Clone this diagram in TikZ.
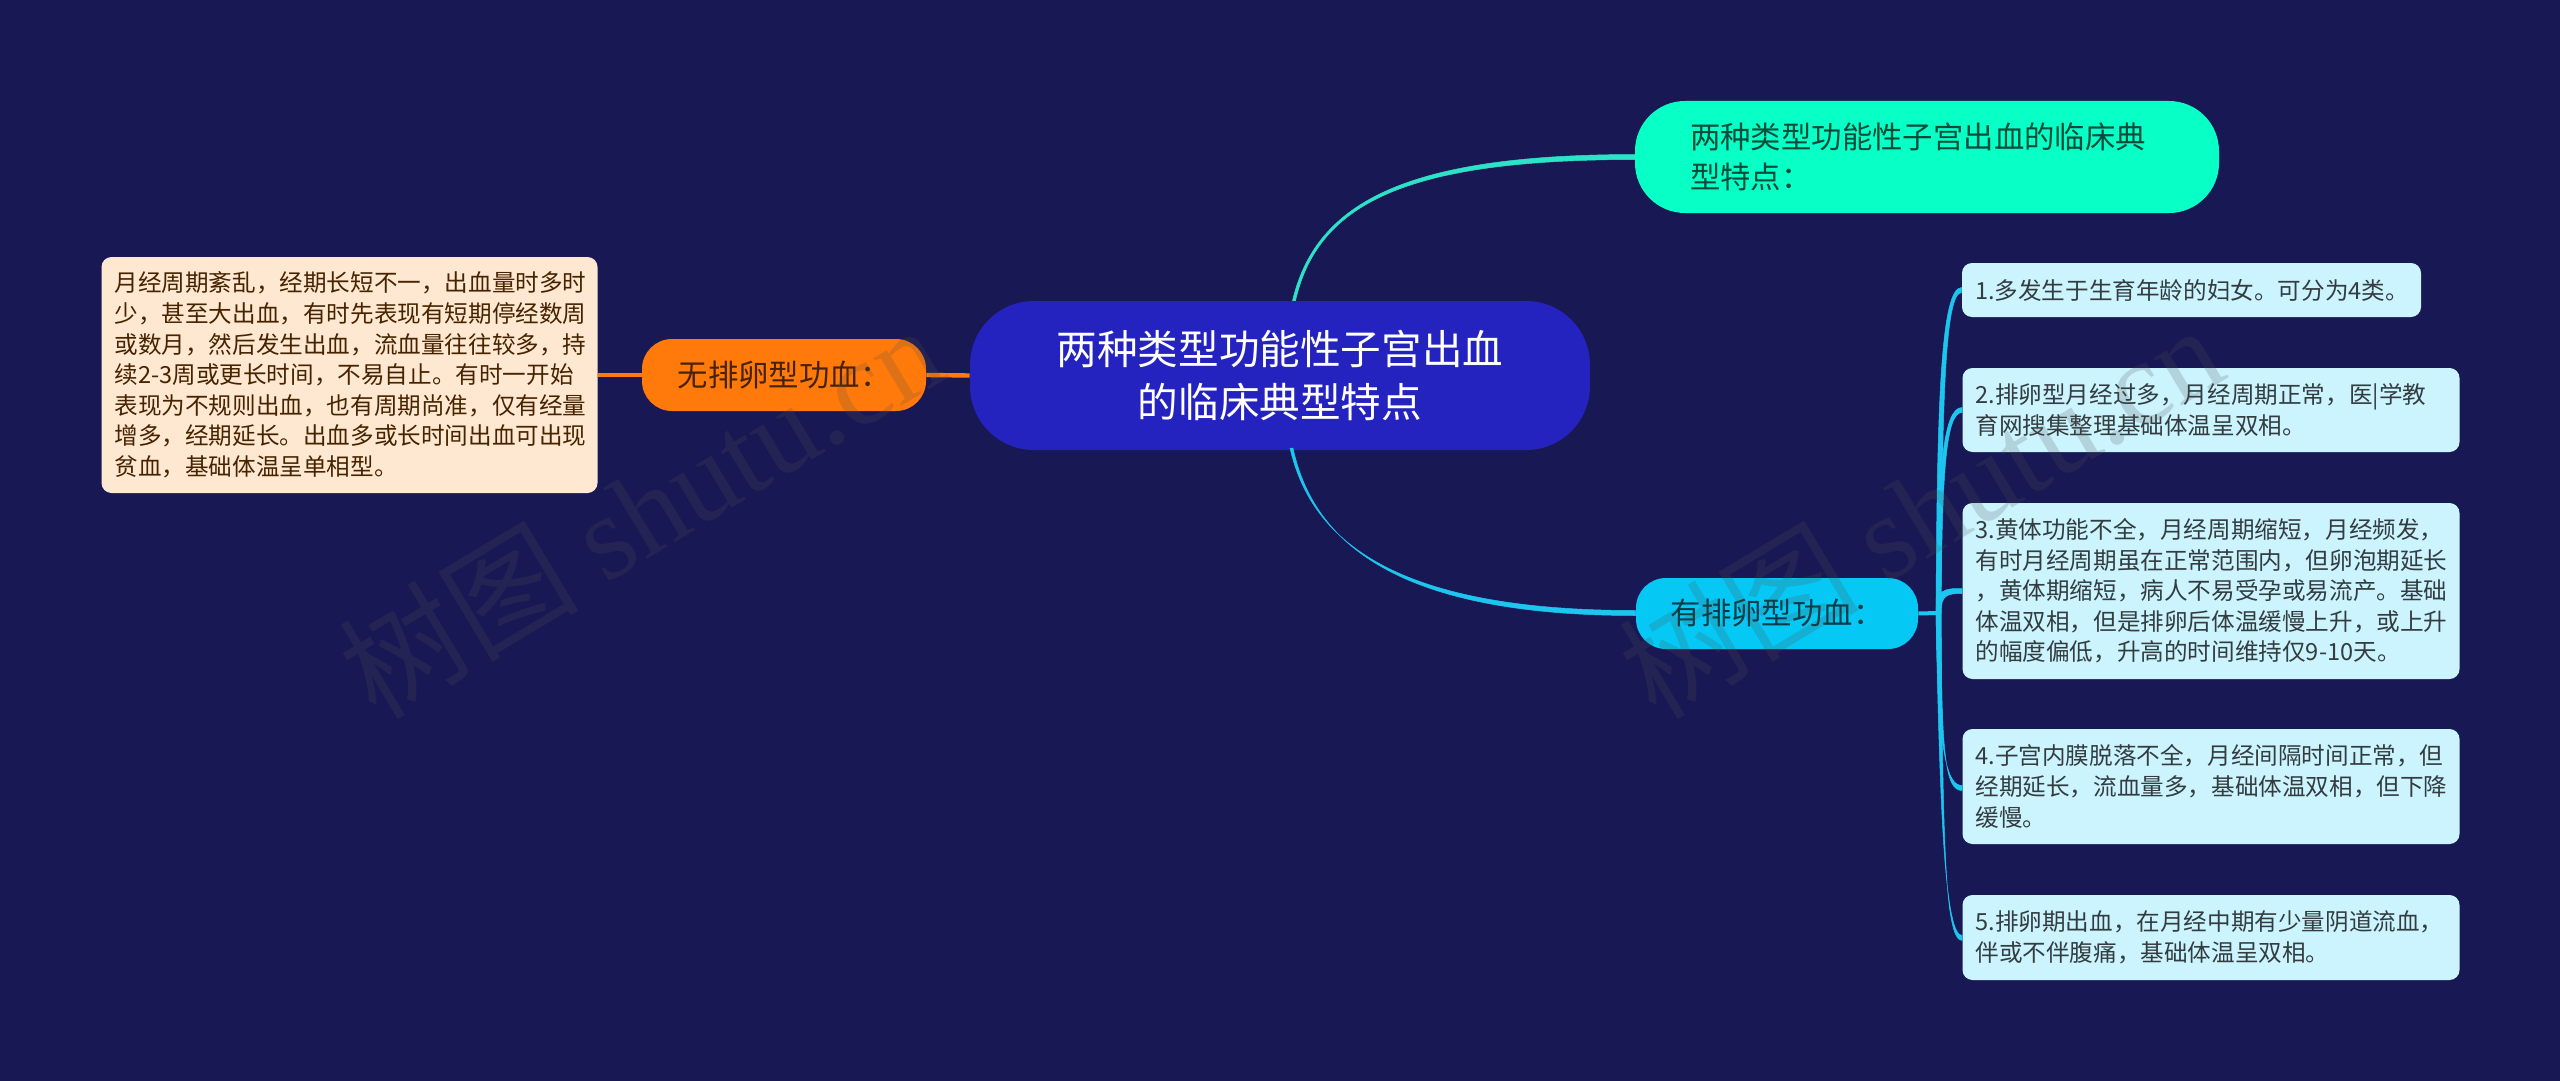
\documentclass[tikz,border=0pt]{standalone}
\usepackage{fontspec}
\setmainfont{Noto Sans CJK SC}
\newfontfamily\wmfont{Liberation Serif}
\newfontfamily\wmcjk{Noto Sans CJK SC}
\definecolor{bgc}{HTML}{181954}
\definecolor{centerc}{HTML}{2523C0}
\definecolor{tealc}{HTML}{08FFC6}
\definecolor{teallinec}{HTML}{2DE2C6}
\definecolor{cyanc}{HTML}{05C8F5}
\definecolor{cyanlinec}{HTML}{1CC6EE}
\definecolor{orangec}{HTML}{FF7A0A}
\definecolor{leafc}{HTML}{CCF4FF}
\definecolor{peachc}{HTML}{FFE8D2}
\definecolor{wmc}{HTML}{505050}
\tikzset{
  x=0.5pt,y=-0.5pt,
  pill/.style={inner sep=0pt,align=center,anchor=center},
  centerpill/.style={pill,fill=centerc,text=white,rounded corners=32pt,minimum width=310pt,minimum height=74.5pt,font=\fontsize{20.3pt}{26.5pt}\selectfont},
  tealpill/.style={pill,fill=tealc,text=black!70!tealc,rounded corners=25pt,minimum width=292pt,minimum height=56pt,text width=237pt,align=left,font=\fontsize{15.2pt}{20pt}\selectfont},
  orangepill/.style={pill,fill=orangec,text=black!72!orangec,rounded corners=15pt,minimum width=142pt,minimum height=36pt,font=\fontsize{15.2pt}{20pt}\selectfont},
  cyanpill/.style={pill,fill=cyanc,text=black!70!cyanc,rounded corners=15pt,minimum width=141pt,minimum height=35.5pt,font=\fontsize{15.2pt}{20pt}\selectfont},
  leaf/.style={inner sep=0pt,fill=leafc,text=black!75!leafc,rounded corners=5pt,align=left,font=\fontsize{11.8pt}{15.3pt}\selectfont},
  peach/.style={leaf,fill=peachc,text=black!72!orange},
  conn/.style={line width=0.25pt,line join=round},
  wm/.style={rotate=31,opacity=0.2,text=wmc,font=\fontsize{60pt}{60pt}\selectfont},
}
\begin{document}
\begin{tikzpicture}
\useasboundingbox (0,0) rectangle (2560,1081);
\fill[bgc] (0,0) rectangle (2560,1081);

\coordinate (cc) at (1280,375.5);
\coordinate (ctop) at (1292,303);
\coordinate (cbot) at (1290,448);
\coordinate (sp) at (1938,613);

% connectors behind the nodes
\draw[conn,draw=teallinec,fill=teallinec] (ctop) .. controls (1315,200) and (1410,154.5) .. (1637,154.5) -- (1637,159.5) .. controls (1410,159.5) and (1317,201) .. ([xshift=1.5pt]ctop) -- cycle;

\node[centerpill] (c) at (cc) {两种类型功能性子宫出血\\的临床典型特点};
\node[tealpill] (t) at (1927,157) {两种类型功能性子宫出血的临床典\\型特点：};
\node[orangepill] (o) at (784,375) {无排卵型功血：};
\node[cyanpill] (y) at (1777,613.5) {有排卵型功血：};

\node[peach,minimum width=248pt,minimum height=118pt,text width=235pt] (l0) at (349.5,375) {月经周期紊乱，经期长短不一，出血量时多时\\少，甚至大出血，有时先表现有短期停经数周\\或数月，然后发生出血，流血量往往较多，持\\续2-3周或更长时间，不易自止。有时一开始\\表现为不规则出血，也有周期尚准，仅有经量\\增多，经期延长。出血多或长时间出血可出现\\贫血，基础体温呈单相型。};

\node[leaf,minimum width=229.5pt,minimum height=27pt,text width=216.5pt] (r1) at (2191.5,290) {1.多发生于生育年龄的妇女。可分为4类。};
\node[leaf,minimum width=248.5pt,minimum height=42pt,text width=235.5pt] (r2) at (2211,410) {2.排卵型月经过多，月经周期正常，医|学教\\育网搜集整理基础体温呈双相。};
\node[leaf,minimum width=248.5pt,minimum height=88pt,text width=235.5pt] (r3) at (2211,591) {3.黄体功能不全，月经周期缩短，月经频发，\\有时月经周期虽在正常范围内，但卵泡期延长\\，黄体期缩短，病人不易受孕或易流产。基础\\体温双相，但是排卵后体温缓慢上升，或上升\\的幅度偏低，升高的时间维持仅9-10天。};
\node[leaf,minimum width=248.5pt,minimum height=57.5pt,text width=235.5pt] (r4) at (2211,786.5) {4.子宫内膜脱落不全，月经间隔时间正常，但\\经期延长，流血量多，基础体温双相，但下降\\缓慢。};
\node[leaf,minimum width=248.5pt,minimum height=42.5pt,text width=235.5pt] (r5) at (2211,937.5) {5.排卵期出血，在月经中期有少量阴道流血，\\伴或不伴腹痛，基础体温呈双相。};

\draw[conn,draw=cyanlinec,fill=cyanlinec] (cbot) .. controls (1313,550) and (1410,610.5) .. (y.west |- 0,610.5) -- (y.west |- 0,615.5) .. controls (1410,615.5) and (1315,551) .. ([xshift=1.5pt]cbot) -- cycle;

\draw[orangec,line width=2.2pt] (l0.east) -- (o.west);
\draw[orangec,line width=2.2pt] (o.east) -- (c.west);

\draw[cyanlinec,line width=2pt] (y.east) -- (sp);
\path[conn,draw=cyanlinec,fill=cyanlinec] (sp) +(-2,0) .. controls (1937,400) and (1941,287.5) .. (r1.west |- 0,287.5) -- (r1.west |- 0,292.5) .. controls (1945,292.5) and (1942,400) .. (1941,613) -- cycle;
\path[conn,draw=cyanlinec,fill=cyanlinec] (sp) +(-2,0) .. controls (1938,470) and (1943,407.5) .. (r2.west |- 0,407.5) -- (r2.west |- 0,412.5) .. controls (1946,412.5) and (1942,470) .. (1941,613) -- cycle;
\path[conn,draw=cyanlinec,fill=cyanlinec] (sp) +(-2,0) .. controls (1936,588.5) and (1945,588.5) .. (r3.west |- 0,588.5) -- (r3.west |- 0,593.5) .. controls (1947,593.5) and (1941,595) .. (1941,613) -- cycle;
\path[conn,draw=cyanlinec,fill=cyanlinec] (sp) +(-2,0) .. controls (1938,760) and (1948,785.5) .. (r4.west |- 0,785.5) -- (r4.west |- 0,790.5) .. controls (1946,790.5) and (1941,760) .. (1941,613) -- cycle;
\path[conn,draw=cyanlinec,fill=cyanlinec] (sp) +(-2,0) .. controls (1940,830) and (1946,935.5) .. (r5.west |- 0,935.5) -- (r5.west |- 0,940.5) .. controls (1944,940.5) and (1943,830) .. (1941,613) -- cycle;

% watermarks
\node[wm] (w1) at (640,510) {\wmcjk 树图 \wmfont shutu.cn};
\node[wm] (w2) at (1920,510) {\wmcjk 树图 \wmfont shutu.cn};
\end{tikzpicture}
\end{document}
